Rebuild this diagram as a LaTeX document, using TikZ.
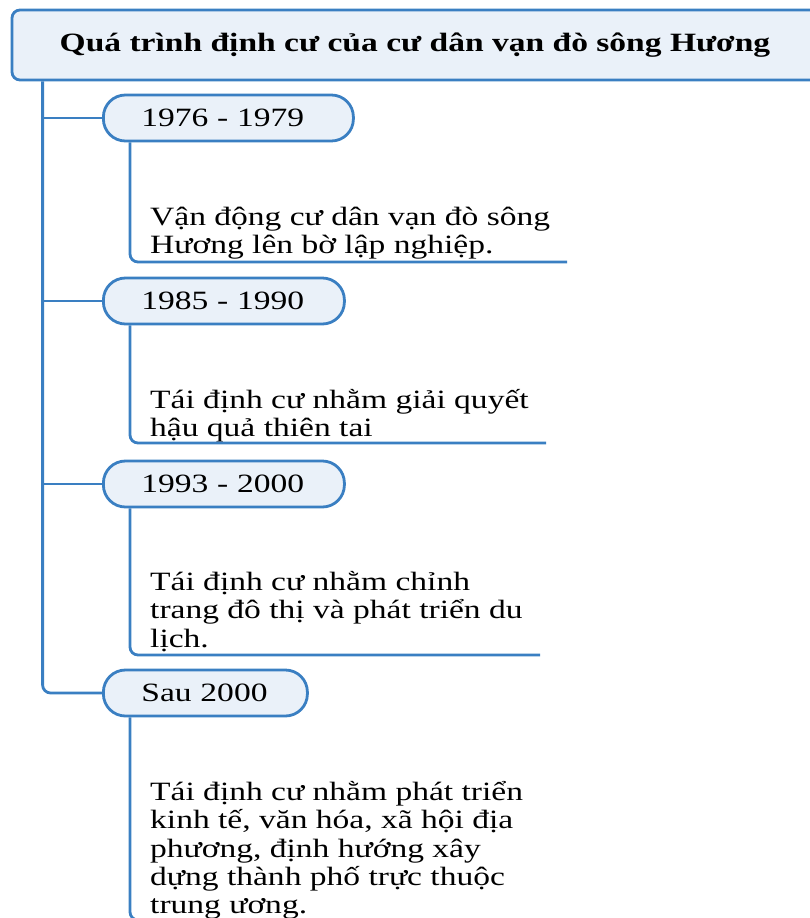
\documentclass[tikz,border=0pt]{standalone}
\usepackage{fontspec}
\setmainfont{Liberation Serif}[FakeStretch=1.27]
\usetikzlibrary{positioning,calc}
\definecolor{mapblue}{HTML}{3A7FC2}
\definecolor{mapfill}{HTML}{EAF1F9}

\begin{document}
\begin{tikzpicture}[x=1pt,y=-1pt,
    titlebox/.style={
        draw=mapblue,
        fill=mapfill,
        line width=2.8pt,
        rounded corners=8pt,
        minimum width=806pt,
        minimum height=70pt,
        font=\fontsize{26.4}{28}\selectfont\bfseries
    },
    datebox/.style={
        draw=mapblue,
        fill=mapfill,
        line width=2.8pt,
        rounded corners=22pt,
        minimum height=46pt,
        inner xsep=38pt,
        align=left,
        anchor=west,
        font=\fontsize{26.4}{28}\selectfont
    },
    desc/.style={anchor=north west, align=left, inner sep=0pt, font=\fontsize{26.4}{28.4}\selectfont},
    link/.style={draw=mapblue, line width=2.8pt}
]
\useasboundingbox (0,0) rectangle (809,918);

\node[titlebox] (title) at (415,45) {Quá trình định cư của cư dân vạn đò sông Hương};

\node[datebox, text width=174pt] (d1) at (102,118) {1976 - 1979};
\node[datebox, text width=165pt] (d2) at (102,301) {1985 - 1990};
\node[datebox, text width=165pt] (d3) at (102,484) {1993 - 2000};
\node[datebox, text width=128pt] (d4) at (102,693) {Sau 2000};

\node[desc] (t1) at (150,207) {Vận động cư dân vạn đò sông\\Hương lên bờ lập nghiệp.};
\node[desc] (t2) at (150,389) {Tái định cư nhằm giải quyết\\hậu quả thiên tai};
\node[desc] (t3) at (150,571) {Tái định cư nhằm chỉnh\\trang đô thị và phát triển du\\lịch.};
\node[desc] (t4) at (150,781) {Tái định cư nhằm phát triển\\kinh tế, văn hóa, xã hội địa\\phương, định hướng xây\\dựng thành phố trực thuộc\\trung ương.};

% trunk and branches
\coordinate (trunk) at ([xshift=32pt]title.south west);
\draw[link, rounded corners=8pt] (trunk) |- (d4.west);
\foreach \d in {d1,d2,d3}
    \draw[link] (trunk |- \d.west) -- (\d.west);

% underlines of the descriptions
\coordinate (e1) at (567,262);
\coordinate (e2) at (546,443);
\coordinate (e3) at (540,655);
\coordinate (e4) at (560,920);
\foreach \d/\e in {d1/e1,d2/e2,d3/e3,d4/e4}
    \draw[link, rounded corners=8pt] ([xshift=28pt]\d.south west) |- (\e);

\end{tikzpicture}
\end{document}
